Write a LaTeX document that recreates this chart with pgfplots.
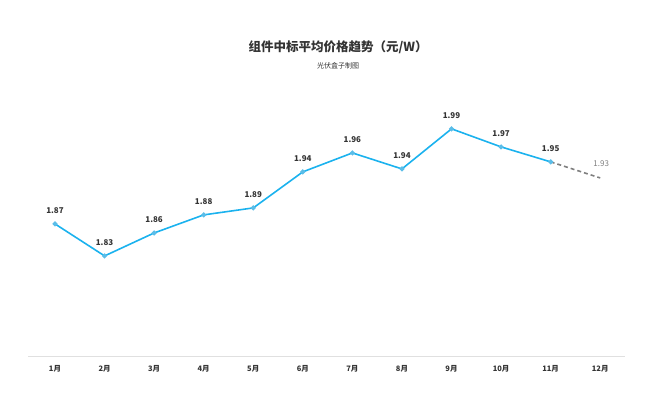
\documentclass[border=0pt]{standalone}
\usepackage{fontspec}
\setmainfont{Noto Sans CJK SC}
\usepackage{pgfplots}
\pgfplotsset{compat=1.18}
\usetikzlibrary{calc}
\definecolor{lineblue}{HTML}{1BB2EE}
\definecolor{markblue}{HTML}{5BBDE8}
\definecolor{txt}{HTML}{333333}
\definecolor{dashgray}{HTML}{7F7F7F}
\begin{document}
\begin{tikzpicture}
\begin{axis}[
  scale only axis,
  width=597pt, height=266pt,
  xmin=0.455, xmax=12.5,
  ymin=1.7033, ymax=2.039,
  axis y line=none,
  axis x line*=bottom,
  x axis line style={draw=black!12, line width=0.8pt, -},
  xtick={1,...,12},
  xticklabels={1月,2月,3月,4月,5月,6月,7月,8月,9月,10月,11月,12月},
  major tick length=0pt,
  xticklabel style={font=\fontsize{7.5}{9}\selectfont\bfseries, text=txt, yshift=-6pt},
  clip=false,
  nodes near coords,
  point meta=explicit symbolic,
  /pgf/number format/assume math mode=true,
]
\addplot[color=dashgray, line width=1.6pt, dash pattern=on 4pt off 3pt, mark=none,
  nodes near coords style={font=\fontsize{8}{9}\selectfont, text=dashgray, anchor=south, yshift=7pt, xshift=1pt}]
  coordinates {(11,1.9483) [] (12,1.928) [1.93]};
\addplot[color=lineblue, line width=1.6pt, mark=*, mark size=1.6pt,
  mark options={fill=markblue, draw=markblue},
  nodes near coords style={font=\fontsize{8}{9}\selectfont\bfseries, text=txt, anchor=south, yshift=6pt}]
  coordinates {
  (1,1.87) [1.87]
  (2,1.8296) [1.83]
  (3,1.8586) [1.86]
  (4,1.8814) [1.88]
  (5,1.8902) [1.89]
  (6,1.9357) [1.94]
  (7,1.9596) [1.96]
  (8,1.9394) [1.94]
  (9,1.99) [1.99]
  (10,1.9672) [1.97]
  (11,1.9483) [1.95]
  };
\end{axis}
\path (current axis.south west) ++(-28pt,-36pt) coordinate (bl) ++(663pt,392pt) coordinate (tr);
\useasboundingbox (bl) rectangle (tr);
\node[font=\fontsize{12.5}{14}\selectfont\bfseries, text=txt] at ($(bl)+(338pt,345pt)$) {组件中标平均价格趋势（元/W）};
\node[font=\fontsize{7}{8}\selectfont, text=txt] at ($(bl)+(338pt,326pt)$) {光伏盒子制图};
\end{tikzpicture}
\end{document}
